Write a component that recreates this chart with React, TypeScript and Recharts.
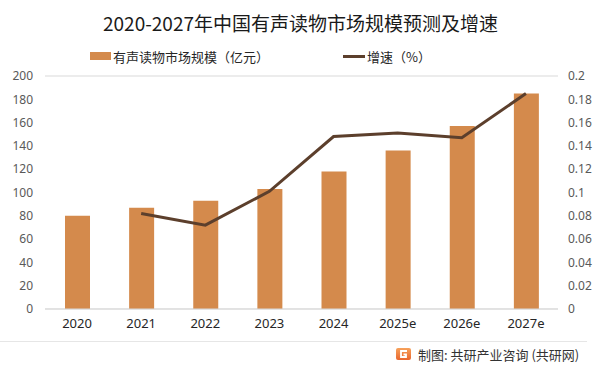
import React from "react";
import { ComposedChart, Bar, Line, XAxis, YAxis, CartesianGrid } from "recharts";

const years = ["2020", "2021", "2022", "2023", "2024", "2025e", "2026e", "2027e"];
const marketSize = [80, 87, 93, 103, 118, 136, 157, 185];
const growthRate = [null, 0.082, 0.072, 0.101, 0.148, 0.151, 0.147, 0.185];
const leftTicks = [0, 20, 40, 60, 80, 100, 120, 140, 160, 180, 200];
const rightTicks = [0, 0.02, 0.04, 0.06, 0.08, 0.1, 0.12, 0.14, 0.16, 0.18, 0.2];

const data = years.map((year, i) => ({ year, size: marketSize[i], growth: growthRate[i] }));

const BAR = "#D48A4C";
const LINE = "#5C3F2C";
const CJK = '"Noto Sans CJK SC", "Noto Sans", sans-serif';
const NUM = '"Noto Sans", "Open Sans", sans-serif';

function ChartLegend() {
  return (
    <div style={{ position: "absolute", left: 0, top: 47, width: 601, height: 20, fontFamily: CJK, fontSize: 13, color: "#262626" }}>
      <span style={{ position: "absolute", left: 90, top: 5, width: 21, height: 8, background: BAR }} />
      <span style={{ position: "absolute", left: 113, top: 0, whiteSpace: "nowrap" }}>有声读物市场规模（亿元）</span>
      <span style={{ position: "absolute", left: 343, top: 8, width: 22, height: 3, background: LINE }} />
      <span style={{ position: "absolute", left: 367, top: 0, whiteSpace: "nowrap" }}>增速（%）</span>
    </div>
  );
}

export default function App() {
  return (
    <div style={{ position: "absolute", left: 0, top: 0, width: 601, height: 373, background: "#fff", overflow: "hidden" }}>
      <div style={{ position: "absolute", top: 9, width: 601, textAlign: "center", fontFamily: CJK, fontSize: 19, color: "#1a1a1a" }}>
        2020-2027年中国有声读物市场规模预测及增速
      </div>
      <ChartLegend />
      <ComposedChart width={601} height={373} data={data} margin={{ top: 76, right: 0, bottom: 34, left: 0 }}>
        <CartesianGrid vertical={false} stroke="#d9d9d9" />
        <XAxis
          dataKey="year"
          height={30}
          tickLine={false}
          tickSize={0}
          tickMargin={10}
          axisLine={{ stroke: "#d9d9d9" }}
          tick={{ fontSize: 13, fill: "#262626", fontFamily: NUM }}
        />
        <YAxis
          yAxisId="left"
          width={45}
          domain={[0, 200]}
          ticks={leftTicks}
          axisLine={false}
          tickLine={false}
          tickSize={0}
          tickMargin={12}
          tick={{ fontSize: 12, fill: "#595959", fontFamily: NUM }}
        />
        <YAxis
          yAxisId="right"
          orientation="right"
          width={43}
          domain={[0, 0.2]}
          ticks={rightTicks}
          axisLine={false}
          tickLine={false}
          tickSize={0}
          tickMargin={10}
          tickFormatter={(v) => String(v)}
          tick={{ fontSize: 12, fill: "#595959", fontFamily: NUM }}
        />
        <Bar yAxisId="left" dataKey="size" fill={BAR} barSize={25} isAnimationActive={false} />
        <Line
          yAxisId="right"
          type="linear"
          dataKey="growth"
          stroke={LINE}
          strokeWidth={3}
          dot={false}
          activeDot={false}
          connectNulls
          isAnimationActive={false}
        />
      </ComposedChart>
      <div style={{ position: "absolute", left: 0, top: 341, width: 587, height: 1, background: "#e6e6e6" }} />
      <svg style={{ position: "absolute", left: 396, top: 348 }} width={15} height={12} viewBox="0 0 15 12">
        <defs>
          <linearGradient id="lg" x1="0" y1="0" x2="0" y2="1">
            <stop offset="0" stopColor="#F7A25B" />
            <stop offset="1" stopColor="#E9662E" />
          </linearGradient>
        </defs>
        <rect x={0} y={0} width={15} height={12} rx={2} fill="url(#lg)" />
        <path d="M11 3 H5 V9 H10 V6.5 H7.5" fill="none" stroke="#fff" strokeWidth={1.8} />
      </svg>
      <div style={{ position: "absolute", left: 418, top: 345, fontFamily: CJK, fontSize: 13, color: "#333", whiteSpace: "nowrap" }}>
        制图: 共研产业咨询 (共研网)
      </div>
    </div>
  );
}
